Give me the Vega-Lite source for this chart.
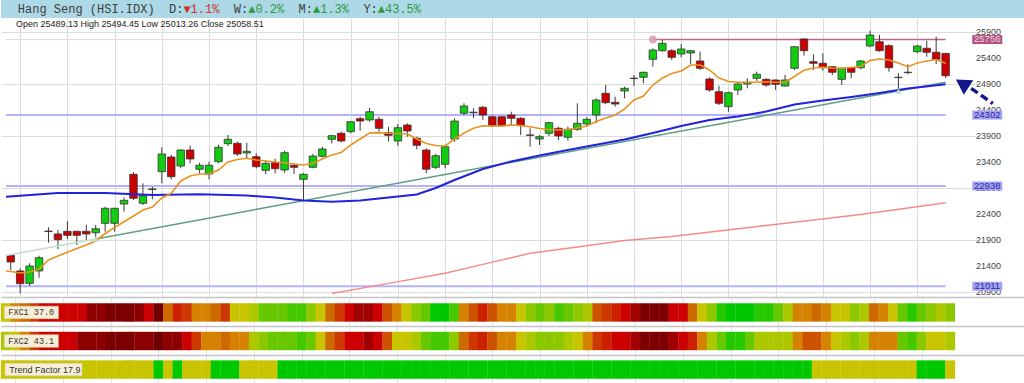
{
"$schema": "https://vega.github.io/schema/vega-lite/v6.json",
"autosize": {"type": "pad"},
"padding": 0,
"background": "white",
"spacing": 0,
"resolve": {"scale": {"color": "independent"}},
"config": {"view": {"stroke": null}, "concat": {"spacing": 0}},
"datasets": {
"hdr": [
{"col": 0, "t": "Hang Seng (HSI.IDX)", "k": "n"},
{"col": 21, "t": "D:", "k": "n"},
{"col": 23, "t": "▼1.1%", "k": "d"},
{"col": 30, "t": "W:", "k": "n"},
{"col": 32, "t": "▲0.2%", "k": "u"},
{"col": 39, "t": "M:", "k": "n"},
{"col": 41, "t": "▲1.3%", "k": "u"},
{"col": 48, "t": "Y:", "k": "n"},
{"col": 50, "t": "▲43.5%", "k": "u"}
],
"ticks": [{"tk":20900},{"tk":21400},{"tk":21900},{"tk":22400},{"tk":22900},{"tk":23400},{"tk":23900},{"tk":24400},{"tk":24900},{"tk":25400},{"tk":25900}],
"candles": [
{"i":0,"o":21606,"h":21615,"l":21323,"c":21477},
{"i":1,"o":21304,"h":21356,"l":20875,"c":21060},
{"i":2,"o":21067,"h":21452,"l":21021,"c":21400},
{"i":3,"o":21304,"h":21598,"l":21175,"c":21560},
{"i":4,"o":22073,"h":22144,"l":21848,"c":22062},
{"i":5,"o":22016,"h":22092,"l":21721,"c":21906},
{"i":6,"o":22067,"h":22260,"l":21919,"c":21990},
{"i":7,"o":22067,"h":22080,"l":21804,"c":21990},
{"i":8,"o":22067,"h":22194,"l":21900,"c":22016},
{"i":9,"o":22040,"h":22189,"l":21919,"c":22117},
{"i":10,"o":22221,"h":22541,"l":22060,"c":22510},
{"i":11,"o":22221,"h":22520,"l":22060,"c":22510},
{"i":12,"o":22592,"h":22721,"l":22444,"c":22663},
{"i":13,"o":23164,"h":23202,"l":22669,"c":22702},
{"i":14,"o":22606,"h":22990,"l":22573,"c":22752},
{"i":15,"o":22870,"h":22925,"l":22683,"c":22882},
{"i":16,"o":23214,"h":23683,"l":22990,"c":23554},
{"i":17,"o":23496,"h":23535,"l":23067,"c":23117},
{"i":18,"o":23323,"h":23644,"l":23279,"c":23631},
{"i":19,"o":23631,"h":23713,"l":23375,"c":23458},
{"i":20,"o":23260,"h":23387,"l":23183,"c":23337},
{"i":21,"o":23169,"h":23406,"l":23067,"c":23337},
{"i":22,"o":23406,"h":23727,"l":23375,"c":23683},
{"i":23,"o":23752,"h":23919,"l":23708,"c":23837},
{"i":24,"o":23760,"h":23790,"l":23515,"c":23554},
{"i":25,"o":23573,"h":23771,"l":23471,"c":23606},
{"i":26,"o":23502,"h":23567,"l":23279,"c":23310},
{"i":27,"o":23240,"h":23438,"l":23169,"c":23375},
{"i":28,"o":23387,"h":23463,"l":23183,"c":23271},
{"i":29,"o":23246,"h":23617,"l":23194,"c":23579},
{"i":30,"o":23337,"h":23375,"l":23169,"c":23298},
{"i":31,"o":23067,"h":23183,"l":22656,"c":23164},
{"i":32,"o":23298,"h":23554,"l":23279,"c":23515},
{"i":33,"o":23510,"h":23694,"l":23490,"c":23650},
{"i":34,"o":23837,"h":23919,"l":23760,"c":23906},
{"i":35,"o":23952,"h":23983,"l":23779,"c":23804},
{"i":36,"o":23983,"h":24188,"l":23952,"c":24175},
{"i":37,"o":24233,"h":24271,"l":24002,"c":24188},
{"i":38,"o":24208,"h":24444,"l":24175,"c":24367},
{"i":39,"o":24221,"h":24271,"l":23983,"c":24048},
{"i":40,"o":23963,"h":24079,"l":23790,"c":23913},
{"i":41,"o":23804,"h":24131,"l":23713,"c":24060},
{"i":42,"o":24112,"h":24144,"l":23887,"c":23996},
{"i":43,"o":23856,"h":23887,"l":23644,"c":23721},
{"i":44,"o":23631,"h":23663,"l":23183,"c":23260},
{"i":45,"o":23298,"h":23554,"l":23265,"c":23521},
{"i":46,"o":23356,"h":23727,"l":23279,"c":23694},
{"i":47,"o":23842,"h":24240,"l":23790,"c":24188},
{"i":48,"o":24337,"h":24529,"l":24304,"c":24477},
{"i":49,"o":24346,"h":24433,"l":24240,"c":24358},
{"i":50,"o":24452,"h":24477,"l":24208,"c":24304},
{"i":51,"o":24271,"h":24290,"l":24079,"c":24098},
{"i":52,"o":24271,"h":24280,"l":24079,"c":24098},
{"i":53,"o":24304,"h":24367,"l":24112,"c":24240},
{"i":54,"o":24240,"h":24260,"l":23919,"c":24098},
{"i":55,"o":23921,"h":24048,"l":23694,"c":23912},
{"i":56,"o":23842,"h":23919,"l":23727,"c":23887},
{"i":57,"o":23952,"h":24175,"l":23900,"c":24156},
{"i":58,"o":24048,"h":24079,"l":23823,"c":23900},
{"i":59,"o":23875,"h":24079,"l":23810,"c":24029},
{"i":60,"o":24029,"h":24529,"l":24002,"c":24144},
{"i":61,"o":24131,"h":24260,"l":24079,"c":24221},
{"i":62,"o":24304,"h":24625,"l":24144,"c":24592},
{"i":63,"o":24721,"h":24881,"l":24510,"c":24540},
{"i":64,"o":24548,"h":24656,"l":24464,"c":24515},
{"i":65,"o":24766,"h":24848,"l":24625,"c":24817},
{"i":66,"o":25012,"h":25073,"l":24862,"c":25004},
{"i":67,"o":25029,"h":25137,"l":24913,"c":25125},
{"i":68,"o":25375,"h":25587,"l":25233,"c":25554},
{"i":69,"o":25540,"h":25746,"l":25521,"c":25683},
{"i":70,"o":25540,"h":25573,"l":25362,"c":25413},
{"i":71,"o":25477,"h":25669,"l":25413,"c":25573},
{"i":72,"o":25496,"h":25554,"l":25285,"c":25540},
{"i":73,"o":25342,"h":25521,"l":25169,"c":25202},
{"i":74,"o":24996,"h":25029,"l":24752,"c":24785},
{"i":75,"o":24752,"h":24867,"l":24496,"c":24529},
{"i":76,"o":24464,"h":24752,"l":24367,"c":24733},
{"i":77,"o":24785,"h":24944,"l":24688,"c":24900},
{"i":78,"o":24900,"h":25010,"l":24817,"c":24933},
{"i":79,"o":25010,"h":25137,"l":24958,"c":25087},
{"i":80,"o":24990,"h":25010,"l":24848,"c":24881},
{"i":81,"o":24977,"h":24990,"l":24785,"c":24894},
{"i":82,"o":24862,"h":25073,"l":24848,"c":24977},
{"i":83,"o":25202,"h":25631,"l":25169,"c":25617},
{"i":84,"o":25765,"h":25779,"l":25444,"c":25540},
{"i":85,"o":25329,"h":25471,"l":25169,"c":25298},
{"i":86,"o":25298,"h":25490,"l":25156,"c":25213},
{"i":87,"o":25233,"h":25246,"l":25073,"c":25125},
{"i":88,"o":24990,"h":25214,"l":24881,"c":25202},
{"i":89,"o":25213,"h":25233,"l":25010,"c":25125},
{"i":90,"o":25213,"h":25362,"l":25183,"c":25342},
{"i":91,"o":25631,"h":25925,"l":25606,"c":25842},
{"i":92,"o":25713,"h":25842,"l":25521,"c":25540},
{"i":93,"o":25637,"h":25663,"l":25137,"c":25213},
{"i":94,"o":25031,"h":25106,"l":24804,"c":25023},
{"i":95,"o":25127,"h":25279,"l":25087,"c":25119},
{"i":96,"o":25521,"h":25650,"l":25490,"c":25631},
{"i":97,"o":25587,"h":25733,"l":25425,"c":25510},
{"i":98,"o":25510,"h":25810,"l":25285,"c":25375},
{"i":99,"o":25489.13,"h":25494.45,"l":25013.26,"c":25058.51}
],
"ma": [
{"s":"o","i":-0.5,"v":21304},{"s":"o","i":0,"v":21294},{"s":"o","i":1,"v":21266},{"s":"o","i":2,"v":21285},{"s":"o","i":3,"v":21342},{"s":"o","i":4,"v":21516},{"s":"o","i":5,"v":21592},{"s":"o","i":6,"v":21664},{"s":"o","i":7,"v":21737},{"s":"o","i":8,"v":21804},{"s":"o","i":9,"v":21881},
{"s":"o","i":10,"v":22025},{"s":"o","i":11,"v":22141},{"s":"o","i":12,"v":22252},{"s":"o","i":13,"v":22362},{"s":"o","i":14,"v":22477},{"s":"o","i":15,"v":22535},{"s":"o","i":16,"v":22708},{"s":"o","i":17,"v":22798},{"s":"o","i":18,"v":23035},{"s":"o","i":19,"v":23131},
{"s":"o","i":20,"v":23169},{"s":"o","i":21,"v":23169},{"s":"o","i":22,"v":23246},{"s":"o","i":23,"v":23400},{"s":"o","i":24,"v":23448},{"s":"o","i":25,"v":23471},{"s":"o","i":26,"v":23439},{"s":"o","i":27,"v":23419},{"s":"o","i":28,"v":23400},{"s":"o","i":29,"v":23387},
{"s":"o","i":30,"v":23362},{"s":"o","i":31,"v":23342},{"s":"o","i":32,"v":23375},{"s":"o","i":33,"v":23458},{"s":"o","i":34,"v":23535},{"s":"o","i":35,"v":23583},{"s":"o","i":36,"v":23727},{"s":"o","i":37,"v":23842},{"s":"o","i":38,"v":23958},{"s":"o","i":39,"v":23964},
{"s":"o","i":40,"v":23952},{"s":"o","i":41,"v":23948},{"s":"o","i":42,"v":23939},{"s":"o","i":43,"v":23842},{"s":"o","i":44,"v":23756},{"s":"o","i":45,"v":23717},{"s":"o","i":46,"v":23708},{"s":"o","i":47,"v":23842},{"s":"o","i":48,"v":23958},{"s":"o","i":49,"v":24048},
{"s":"o","i":50,"v":24098},{"s":"o","i":51,"v":24092},{"s":"o","i":52,"v":24092},{"s":"o","i":53,"v":24112},{"s":"o","i":54,"v":24102},{"s":"o","i":55,"v":24079},{"s":"o","i":56,"v":24044},{"s":"o","i":57,"v":24025},{"s":"o","i":58,"v":24015},{"s":"o","i":59,"v":24025},
{"s":"o","i":60,"v":24054},{"s":"o","i":61,"v":24092},{"s":"o","i":62,"v":24179},{"s":"o","i":63,"v":24246},{"s":"o","i":64,"v":24304},{"s":"o","i":65,"v":24419},{"s":"o","i":66,"v":24592},{"s":"o","i":67,"v":24669},{"s":"o","i":68,"v":24881},{"s":"o","i":69,"v":25015},
{"s":"o","i":70,"v":25102},{"s":"o","i":71,"v":25150},{"s":"o","i":72,"v":25265},{"s":"o","i":73,"v":25265},{"s":"o","i":74,"v":25169},{"s":"o","i":75,"v":25015},{"s":"o","i":76,"v":24948},{"s":"o","i":77,"v":24933},{"s":"o","i":78,"v":24933},{"s":"o","i":79,"v":24933},
{"s":"o","i":80,"v":24944},{"s":"o","i":81,"v":24933},{"s":"o","i":82,"v":24933},{"s":"o","i":83,"v":25044},{"s":"o","i":84,"v":25163},{"s":"o","i":85,"v":25208},{"s":"o","i":86,"v":25221},{"s":"o","i":87,"v":25208},{"s":"o","i":88,"v":25202},{"s":"o","i":89,"v":25217},
{"s":"o","i":90,"v":25237},{"s":"o","i":91,"v":25352},{"s":"o","i":92,"v":25381},{"s":"o","i":93,"v":25362},{"s":"o","i":94,"v":25304},{"s":"o","i":95,"v":25233},{"s":"o","i":96,"v":25304},{"s":"o","i":97,"v":25342},{"s":"o","i":98,"v":25371},{"s":"o","i":99,"v":25298},
{"s":"b","i":-0.5,"v":22733},{"s":"b","i":5,"v":22804},{"s":"b","i":10,"v":22804},{"s":"b","i":15,"v":22766},{"s":"b","i":20,"v":22779},{"s":"b","i":25,"v":22756},{"s":"b","i":28,"v":22717},{"s":"b","i":31,"v":22660},{"s":"b","i":34,"v":22637},{"s":"b","i":37,"v":22660},{"s":"b","i":40,"v":22717},{"s":"b","i":43,"v":22775},{"s":"b","i":45,"v":22900},{"s":"b","i":47,"v":23054},{"s":"b","i":50,"v":23265},{"s":"b","i":53,"v":23410},{"s":"b","i":56,"v":23525},{"s":"b","i":59,"v":23631},{"s":"b","i":62,"v":23733},{"s":"b","i":65,"v":23833},{"s":"b","i":68,"v":23958},{"s":"b","i":71,"v":24092},{"s":"b","i":74,"v":24208},{"s":"b","i":77,"v":24275},{"s":"b","i":80,"v":24371},{"s":"b","i":83,"v":24506},{"s":"b","i":86,"v":24583},{"s":"b","i":89,"v":24650},{"s":"b","i":92,"v":24727},{"s":"b","i":95,"v":24813},{"s":"b","i":99,"v":24894},
{"s":"r","i":34,"v":20871},{"s":"r","i":40,"v":21066},{"s":"r","i":46,"v":21260},{"s":"r","i":50,"v":21431},{"s":"r","i":55,"v":21644},{"s":"r","i":60,"v":21766},{"s":"r","i":65,"v":21891},{"s":"r","i":70,"v":21968},{"s":"r","i":75,"v":22073},{"s":"r","i":80,"v":22179},{"s":"r","i":85,"v":22285},{"s":"r","i":90,"v":22391},{"s":"r","i":95,"v":22516},{"s":"r","i":99,"v":22617},
{"s":"tl","i":-0.5,"v":21601},{"s":"tl","i":9,"v":21919},
{"s":"td","i":9,"v":21919},{"s":"td","i":99,"v":24934}
],
"levels": [
{"lv":25756,"k":"r"},{"lv":24302,"k":"s"},{"lv":22938,"k":"s"},{"lv":21011,"k":"s"}
],
"pivot": [{"i":68,"v":25756}],
"touch": [{"i":9,"v":21919},{"i":94,"v":24766}],
"arrow": [{"i":101.7,"v":24817},{"i":104.0,"v":24525}],
"head": [{"i":100.76,"v":24910}],
"heat": [
{"i":0,"a":10,"b":11,"t":10},{"i":1,"a":9,"b":10,"t":10},{"i":2,"a":8,"b":9,"t":10},{"i":3,"a":6,"b":6,"t":10},{"i":4,"a":4,"b":4,"t":10},{"i":5,"a":4,"b":4,"t":10},{"i":6,"a":4,"b":4,"t":10},{"i":7,"a":4,"b":4,"t":10},{"i":8,"a":4,"b":2,"t":10},{"i":9,"a":2,"b":2,"t":10},
{"i":10,"a":2,"b":2,"t":10},{"i":11,"a":1,"b":1,"t":10},{"i":12,"a":1,"b":1,"t":10},{"i":13,"a":1,"b":1,"t":10},{"i":14,"a":2,"b":2,"t":10},{"i":15,"a":4,"b":2,"t":10},{"i":16,"a":0,"b":0,"t":16},{"i":17,"a":8,"b":2,"t":10},{"i":18,"a":5,"b":2,"t":16},{"i":19,"a":6,"b":4,"t":10},
{"i":20,"a":9,"b":6,"t":10},{"i":21,"a":9,"b":9,"t":10},{"i":22,"a":8,"b":9,"t":16},{"i":23,"a":6,"b":8,"t":16},{"i":24,"a":10,"b":9,"t":16},{"i":25,"a":10,"b":9,"t":10},{"i":26,"a":11,"b":11,"t":10},{"i":27,"a":13,"b":12,"t":10},{"i":28,"a":13,"b":13,"t":10},{"i":29,"a":13,"b":13,"t":16},
{"i":30,"a":14,"b":13,"t":16},{"i":31,"a":14,"b":14,"t":16},{"i":32,"a":12,"b":13,"t":16},{"i":33,"a":10,"b":10,"t":16},{"i":34,"a":8,"b":8,"t":16},{"i":35,"a":6,"b":6,"t":16},{"i":36,"a":4,"b":4,"t":16},{"i":37,"a":3,"b":4,"t":16},{"i":38,"a":3,"b":3,"t":16},{"i":39,"a":4,"b":4,"t":16},
{"i":40,"a":7,"b":7,"t":16},{"i":41,"a":9,"b":10,"t":16},{"i":42,"a":10,"b":10,"t":16},{"i":43,"a":12,"b":11,"t":16},{"i":44,"a":13,"b":13,"t":16},{"i":45,"a":16,"b":14,"t":16},{"i":46,"a":16,"b":14,"t":16},{"i":47,"a":14,"b":12,"t":16},{"i":48,"a":9,"b":8,"t":16},{"i":49,"a":7,"b":6,"t":16},
{"i":50,"a":5,"b":5,"t":16},{"i":51,"a":7,"b":7,"t":16},{"i":52,"a":9,"b":9,"t":16},{"i":53,"a":9,"b":9,"t":16},{"i":54,"a":10,"b":10,"t":16},{"i":55,"a":12,"b":11,"t":16},{"i":56,"a":13,"b":12,"t":16},{"i":57,"a":12,"b":12,"t":16},{"i":58,"a":14,"b":12,"t":16},{"i":59,"a":13,"b":11,"t":16},
{"i":60,"a":12,"b":10,"t":16},{"i":61,"a":11,"b":9,"t":16},{"i":62,"a":7,"b":6,"t":16},{"i":63,"a":6,"b":5,"t":16},{"i":64,"a":5,"b":4,"t":16},{"i":65,"a":4,"b":4,"t":16},{"i":66,"a":3,"b":3,"t":16},{"i":67,"a":1,"b":1,"t":16},{"i":68,"a":1,"b":1,"t":16},{"i":69,"a":1,"b":1,"t":16},
{"i":70,"a":4,"b":3,"t":16},{"i":71,"a":4,"b":4,"t":16},{"i":72,"a":8,"b":5,"t":16},{"i":73,"a":10,"b":9,"t":16},{"i":74,"a":12,"b":11,"t":16},{"i":75,"a":15,"b":13,"t":16},{"i":76,"a":16,"b":15,"t":16},{"i":77,"a":16,"b":15,"t":16},{"i":78,"a":16,"b":13,"t":16},{"i":79,"a":15,"b":11,"t":16},
{"i":80,"a":15,"b":11,"t":16},{"i":81,"a":13,"b":11,"t":16},{"i":82,"a":11,"b":11,"t":16},{"i":83,"a":9,"b":9,"t":16},{"i":84,"a":9,"b":7,"t":16},{"i":85,"a":8,"b":7,"t":10},{"i":86,"a":9,"b":9,"t":10},{"i":87,"a":10,"b":10,"t":10},{"i":88,"a":10,"b":11,"t":10},{"i":89,"a":12,"b":12,"t":10},
{"i":90,"a":11,"b":11,"t":10},{"i":91,"a":8,"b":9,"t":10},{"i":92,"a":9,"b":9,"t":10},{"i":93,"a":10,"b":9,"t":10},{"i":94,"a":13,"b":13,"t":10},{"i":95,"a":15,"b":14,"t":10},{"i":96,"a":13,"b":12,"t":16},{"i":97,"a":12,"b":10,"t":16},{"i":98,"a":11,"b":10,"t":16},{"i":99,"a":12,"b":11,"t":10}
],
"labels": [
{"s":"a","txt":"FXC1 37.0"},{"s":"b","txt":"FXC2 43.1"},{"s":"t","txt":"Trend Factor 17.9"}
]
},
"vconcat": [
{
"width": 1024, "height": 18,
"view": {"fill": "#add8e6", "stroke": null},
"data": {"name": "hdr"},
"mark": {"type": "text", "align": "left", "baseline": "middle", "font": "Liberation Mono", "fontSize": 12},
"encoding": {
"x": {"field": "col", "type": "quantitative", "scale": {"domain": [-2.333, 139.89], "nice": false, "zero": false}, "axis": null},
"text": {"field": "t"},
"color": {"field": "k", "type": "nominal", "scale": {"domain": ["n","d","u"], "range": ["#404040","#d4302c","#2e9a40"]}, "legend": null}
}
},
{
"width": 977, "height": 280,
"title": {"text": "Open 25489.13 High 25494.45 Low 25013.26 Close 25058.51", "anchor": "start", "orient": "top", "offset": 0, "dx": 15, "dy": 11, "font": "Liberation Sans", "fontSize": 9, "fontWeight": "normal", "color": "#222222"},
"layer": [
{
"data": {"name": "levels"},
"transform": [{"filter": "datum.k == 's'"}],
"mark": {"type": "rule", "color": "#b2b2ff", "strokeWidth": 2},
"encoding": {
"x": {"datum": -0.5, "type": "quantitative", "title": null, "scale": {"domain": [-0.5, 101.9], "nice": false, "zero": false}, "axis": {"values": [1,6,11,16,21,26,31,36,41,46,51,56,61,66,71,76,81,86,91,96], "grid": true, "gridColor": "#dcdcdc", "labels": false, "ticks": false, "domain": false, "title": null}},
"x2": {"datum": 99},
"y": {"field": "lv", "type": "quantitative", "title": null, "scale": {"domain": [20784.6, 26169.2], "nice": false, "zero": false}, "axis": {"orient": "right", "values": [20900,21400,21900,22400,22900,23400,23900,24400,24900,25400,25900], "labels": false, "grid": true, "gridColor": "#dcdcdc", "ticks": false, "domain": false, "title": null}}
}
},
{
"data": {"name": "levels"},
"transform": [{"filter": "datum.k == 'r'"}],
"mark": {"type": "rule", "color": "#eed6de", "strokeWidth": 1},
"encoding": {"x": {"datum": -0.5, "type": "quantitative", "title": null}, "x2": {"datum": 68}, "y": {"field": "lv", "type": "quantitative", "title": null}}
},
{
"data": {"name": "levels"},
"transform": [{"filter": "datum.k == 'r'"}],
"mark": {"type": "rule", "color": "#b86a88", "strokeWidth": 1.5},
"encoding": {"x": {"datum": 68, "type": "quantitative", "title": null}, "x2": {"datum": 99}, "y": {"field": "lv", "type": "quantitative", "title": null}}
},
{
"data": {"name": "candles"},
"mark": {"type": "rule", "color": "#3a3a3a", "strokeWidth": 1},
"encoding": {
"x": {"field": "i", "type": "quantitative", "title": null},
"y": {"field": "l", "type": "quantitative", "title": null},
"y2": {"field": "h"}
}
},
{
"data": {"name": "candles"},
"mark": {"type": "bar", "width": 7.5, "stroke": "#333333", "strokeWidth": 0.8},
"encoding": {
"x": {"field": "i", "type": "quantitative", "title": null},
"y": {"field": "o", "type": "quantitative", "title": null},
"y2": {"field": "c"},
"fill": {"condition": {"test": "datum.c >= datum.o", "value": "#11cc11"}, "value": "#cc0000"}
}
},
{
"data": {"name": "ma"},
"transform": [{"filter": "datum.s == 'r'"}],
"mark": {"type": "line", "color": "#f28c8c", "strokeWidth": 1.5},
"encoding": {"x": {"field": "i", "type": "quantitative", "title": null}, "y": {"field": "v", "type": "quantitative", "title": null}}
},
{
"data": {"name": "ma"},
"transform": [{"filter": "datum.s == 'tl'"}],
"mark": {"type": "line", "color": "#c4ddcf", "strokeWidth": 1.5},
"encoding": {"x": {"field": "i", "type": "quantitative", "title": null}, "y": {"field": "v", "type": "quantitative", "title": null}}
},
{
"data": {"name": "ma"},
"transform": [{"filter": "datum.s == 'td'"}],
"mark": {"type": "line", "color": "#5e9e82", "strokeWidth": 1.5},
"encoding": {"x": {"field": "i", "type": "quantitative", "title": null}, "y": {"field": "v", "type": "quantitative", "title": null}}
},
{
"data": {"name": "ma"},
"transform": [{"filter": "datum.s == 'b'"}],
"mark": {"type": "line", "color": "#2222dd", "strokeWidth": 2},
"encoding": {"x": {"field": "i", "type": "quantitative", "title": null}, "y": {"field": "v", "type": "quantitative", "title": null}}
},
{
"data": {"name": "ma"},
"transform": [{"filter": "datum.s == 'o'"}],
"mark": {"type": "line", "color": "#e8931f", "strokeWidth": 1.6},
"encoding": {"x": {"field": "i", "type": "quantitative", "title": null}, "y": {"field": "v", "type": "quantitative", "title": null}}
},
{
"data": {"name": "touch"},
"mark": {"type": "point", "shape": "triangle-up", "filled": true, "color": "#b4e4c4", "size": 40, "opacity": 0.9},
"encoding": {"x": {"field": "i", "type": "quantitative", "title": null}, "y": {"field": "v", "type": "quantitative", "title": null}}
},
{
"data": {"name": "pivot"},
"mark": {"type": "circle", "color": "#d89ab4", "size": 60, "opacity": 0.85},
"encoding": {"x": {"field": "i", "type": "quantitative", "title": null}, "y": {"field": "v", "type": "quantitative", "title": null}}
},
{
"data": {"name": "ticks"},
"mark": {"type": "text", "font": "Liberation Sans", "fontSize": 9, "color": "#444444", "align": "left", "baseline": "middle"},
"encoding": {"x": {"datum": 102.22, "type": "quantitative", "title": null}, "y": {"field": "tk", "type": "quantitative", "title": null}, "text": {"field": "tk", "type": "quantitative", "format": "d"}}
},
{
"data": {"name": "levels"},
"transform": [{"filter": "datum.k == 's'"}],
"mark": {"type": "tick", "orient": "horizontal", "size": 30, "thickness": 9, "color": "#a3a3f5", "opacity": 1},
"encoding": {"x": {"datum": 103.41, "type": "quantitative", "title": null}, "y": {"field": "lv", "type": "quantitative", "title": null}}
},
{
"data": {"name": "levels"},
"transform": [{"filter": "datum.k == 'r'"}],
"mark": {"type": "tick", "orient": "horizontal", "size": 30, "thickness": 9, "color": "#b2547f", "opacity": 1},
"encoding": {"x": {"datum": 103.41, "type": "quantitative", "title": null}, "y": {"field": "lv", "type": "quantitative", "title": null}}
},
{
"data": {"name": "levels"},
"transform": [{"filter": "datum.k == 's'"}],
"mark": {"type": "text", "font": "Liberation Sans", "fontSize": 9.5, "color": "#2b2b9c", "align": "center", "baseline": "middle"},
"encoding": {"x": {"datum": 103.41, "type": "quantitative", "title": null}, "y": {"field": "lv", "type": "quantitative", "title": null}, "text": {"field": "lv", "type": "quantitative", "format": "d"}}
},
{
"data": {"name": "levels"},
"transform": [{"filter": "datum.k == 'r'"}],
"mark": {"type": "text", "font": "Liberation Sans", "fontSize": 9.5, "color": "#f6d2e2", "align": "center", "baseline": "middle"},
"encoding": {"x": {"datum": 103.41, "type": "quantitative", "title": null}, "y": {"field": "lv", "type": "quantitative", "title": null}, "text": {"field": "lv", "type": "quantitative", "format": "d"}}
},
{
"data": {"name": "arrow"},
"mark": {"type": "line", "color": "#15188a", "strokeWidth": 3.5, "strokeDash": [8, 4]},
"encoding": {"x": {"field": "i", "type": "quantitative", "title": null}, "y": {"field": "v", "type": "quantitative", "title": null}}
},
{
"data": {"name": "head"},
"mark": {"type": "point", "shape": "triangle-up", "filled": true, "color": "#15188a", "size": 300, "angle": 303, "opacity": 1},
"encoding": {"x": {"field": "i", "type": "quantitative", "title": null}, "y": {"field": "v", "type": "quantitative", "title": null}}
}
]
},
{
"width": 1024, "height": 86,
"layer": [
{
"data": {"name": "heat"},
"transform": [{"fold": ["a", "b", "t"], "as": ["s", "l"]}],
"mark": {"type": "tick", "orient": "vertical", "thickness": 9.8, "size": 18.4, "opacity": 1},
"encoding": {
"x": {"field": "i", "type": "quantitative", "title": null, "scale": {"domain": [-0.5, 106.84], "nice": false, "zero": false}, "axis": {"values": [1,6,11,16,21,26,31,36,41,46,51,56,61,66,71,76,81,86,91,96], "grid": true, "gridColor": "#e4e4e4", "labels": false, "ticks": false, "domain": false, "title": null}},
"y": {"field": "s", "type": "nominal", "title": null, "scale": {"domain": ["a", "b", "t"], "paddingInner": 0.357, "paddingOuter": 0.185}, "axis": {"grid": true, "bandPosition": -0.289, "gridColor": "#c4c4c4", "gridWidth": 1.5, "labels": false, "ticks": false, "domain": false, "title": null}},
"color": {"field": "l", "type": "ordinal", "scale": {"domain": [0,1,2,3,4,5,6,7,8,9,10,11,12,13,14,15,16], "range": ["#6e0000","#7d0000","#8e0000","#a00000","#cc0000","#cc2000","#cc3800","#cc5200","#cc6a00","#d48200","#c8c400","#aec800","#8cc800","#68c800","#46c800","#26c800","#00c800"]}, "legend": null}
}
},
{
"data": {"name": "labels"},
"transform": [{"filter": "datum.s != 't'"}],
"mark": {"type": "tick", "orient": "horizontal", "size": 54, "thickness": 12.5, "color": "#f7eed6", "stroke": "#d8ceb0", "strokeWidth": 0.6, "opacity": 1},
"encoding": {"x": {"datum": 2.68, "type": "quantitative", "title": null}, "y": {"field": "s", "type": "nominal", "title": null}}
},
{
"data": {"name": "labels"},
"transform": [{"filter": "datum.s == 't'"}],
"mark": {"type": "tick", "orient": "horizontal", "size": 77, "thickness": 12.5, "color": "#f7eed6", "stroke": "#d8ceb0", "strokeWidth": 0.6, "opacity": 1},
"encoding": {"x": {"datum": 3.955, "type": "quantitative", "title": null}, "y": {"field": "s", "type": "nominal", "title": null}}
},
{
"data": {"name": "labels"},
"transform": [{"filter": "datum.s != 't'"}],
"mark": {"type": "text", "font": "Liberation Mono", "fontSize": 8.5, "color": "#333333", "align": "left", "baseline": "middle"},
"encoding": {"x": {"datum": 0.265, "type": "quantitative", "title": null}, "y": {"field": "s", "type": "nominal", "title": null}, "text": {"field": "txt"}}
},
{
"data": {"name": "labels"},
"transform": [{"filter": "datum.s == 't'"}],
"mark": {"type": "text", "font": "Liberation Sans", "fontSize": 9, "color": "#333333", "align": "left", "baseline": "middle"},
"encoding": {"x": {"datum": 0.37, "type": "quantitative", "title": null}, "y": {"field": "s", "type": "nominal", "title": null}, "text": {"field": "txt"}}
}
]
}
]
}
